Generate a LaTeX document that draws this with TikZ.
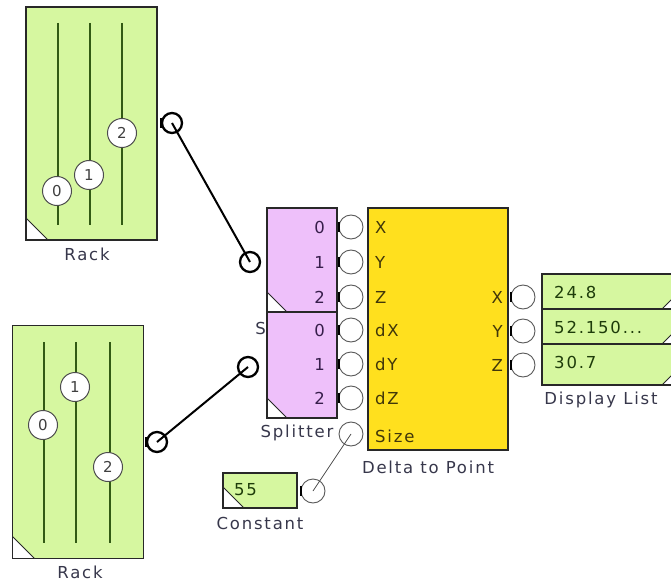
\documentclass[tikz,border=0pt]{standalone}
\usepackage{fontspec}
\setmainfont{DejaVu Sans}[LetterSpace=11]
\usetikzlibrary{positioning,calc}
\definecolor{rackgreen}{RGB}{214,247,160}
\definecolor{slidergreen}{RGB}{50,90,20}
\definecolor{splitpink}{RGB}{238,192,250}
\definecolor{deltayellow}{RGB}{255,224,30}
\definecolor{edge}{RGB}{40,40,40}
\definecolor{lbltext}{RGB}{55,55,75}
\definecolor{numtext}{RGB}{55,30,75}
\definecolor{pintext}{RGB}{65,55,10}
\definecolor{valtext}{RGB}{30,60,10}
\newcommand\lblfont{\fontsize{16.5}{18}\selectfont}
\newcommand\knobfont{\fontsize{15}{16}\selectfont}

\begin{document}
\begin{tikzpicture}[x=1pt,y=-1pt,
    block/.style={draw=edge,line width=1.3pt,inner sep=0pt},
    cornerL/.style={path picture={
        \fill[white] ([yshift=#1]path picture bounding box.south west)
          -- ([xshift=#1]path picture bounding box.south west)
          -- (path picture bounding box.south west) -- cycle;
        \draw[edge,line width=0.8pt] ([yshift=#1]path picture bounding box.south west)
          -- ([xshift=#1]path picture bounding box.south west);}},
    cornerR/.style={path picture={
        \fill[white] ([yshift=#1]path picture bounding box.south east)
          -- ([xshift=-#1]path picture bounding box.south east)
          -- (path picture bounding box.south east) -- cycle;
        \draw[edge,line width=0.8pt] ([yshift=#1]path picture bounding box.south east)
          -- ([xshift=-#1]path picture bounding box.south east);}},
    rackbox/.style={block,fill=rackgreen,minimum width=131pt,minimum height=233pt,cornerL=22pt},
    splitbox/.style={block,fill=splitpink,minimum width=70pt,cornerL=20pt},
    rowbox/.style={block,fill=rackgreen,minimum width=140pt,cornerR=20pt},
    port/.style={circle,draw=black!65,fill=white,line width=0.9pt,minimum size=24pt,inner sep=0pt},
    wireport/.style={circle,draw=black,fill=white,line width=2.3pt,minimum size=20pt,inner sep=0pt},
    knob/.style={circle,draw=black!70,fill=white,line width=1pt,minimum size=29pt,inner sep=0pt,
        font=\knobfont,text=black!75},
    lbl/.style={text=lbltext,font=\lblfont,inner sep=0pt},
    num/.style={text=numtext,font=\lblfont,inner sep=0pt,anchor=east},
    pin/.style={text=pintext,font=\lblfont,inner sep=0pt},
    val/.style={text=valtext,font=\lblfont,inner sep=0pt,anchor=west},
    slider/.style={draw=slidergreen,line width=1.6pt},
    tick/.style={black,line width=2pt},
    wire/.style={black,line width=2pt},
    thinwire/.style={black!70,line width=0.8pt}]
  \useasboundingbox (0,0) rectangle (671,585);

  %% Rack 1
  \node[rackbox] (rack1) at (91.5,123.5) {};
  \foreach \x in {58,90,122} \draw[slider] (\x,23) -- (\x,225);
  \node[knob] (k10) at (57,191) {0};
  \node[knob] (k11) at (89,175) {1};
  \node[knob] (k12) at (122,133) {2};
  \node[lbl] (rack1lbl) at (87,254) {Rack};
  \node[wireport] (rp1) at (172,123) {};
  \draw[tick] ([yshift=5pt]rp1.west) -- ([yshift=-5pt]rp1.west);

  %% Rack 2
  \node[rackbox] (rack2) at (78,442) {};
  \foreach \x in {44,76,110} \draw[slider] (\x,342) -- (\x,543);
  \node[knob] (k20) at (43,425) {0};
  \node[knob] (k21) at (75,387) {1};
  \node[knob] (k22) at (108,467) {2};
  \node[lbl] (rack2lbl) at (80,572) {Rack};
  \node[wireport] (rp2) at (157,442) {};
  \draw[tick] ([yshift=5pt]rp2.west) -- ([yshift=-5pt]rp2.west);

  %% Splitters
  \node[splitbox,minimum height=104pt] (split1) at (302,260) {};
  \node[lbl,anchor=east] (split1lbl) at (266,328) {S};
  \node[splitbox,minimum height=106pt] (split2) at (302,365) {};
  \node[lbl] (split2lbl) at (297,433) {Splitter};
  \node[num] (n10) at (325,227) {0};
  \node[num] (n11) at (325,262) {1};
  \node[num] (n12) at (325,297) {2};
  \node[num] (n20) at (325,330) {0};
  \node[num] (n21) at (325,364) {1};
  \node[num] (n22) at (325,398) {2};
  \node[wireport] (s1in) at (250,262) {};
  \node[wireport] (s2in) at (248,367) {};

  %% Delta to Point
  \node[block,fill=deltayellow,minimum width=140pt,minimum height=242pt] (delta) at (438,329) {};
  \node[lbl] (deltalbl) at (428,467) {Delta to Point};
  \foreach \y/\t/\n in {227/X/X,262/Y/Y,297/Z/Z,330/dX/dX,364/dY/dY,398/dZ/dZ}{
    \node[port] (o\n) at (351,\y) {};
    \draw[tick] ([yshift=5pt]o\n.west) -- ([yshift=-5pt]o\n.west);
    \node[pin,anchor=west] (in\n) at (375,\y) {\t};
  }
  \node[port] (osize) at (351,434) {};
  \node[pin,anchor=west] (insize) at (375,436) {Size};
  \node[pin,anchor=east] (outX) at (503,297) {X};
  \node[pin,anchor=east] (outY) at (503,331) {Y};
  \node[pin,anchor=east] (outZ) at (503,365) {Z};
  \node[port] (dX) at (523,297) {};
  \node[port] (dY) at (523,331) {};
  \node[port] (dZ) at (523,365) {};
  \foreach \p in {dX,dY,dZ}
    \draw[tick] ([yshift=5pt]\p.west) -- ([yshift=-5pt]\p.west);

  %% Display List
  \node[rowbox,minimum height=35pt] (row1) at (612,291.5) {};
  \node[rowbox,minimum height=35pt] (row2) at (612,326.5) {};
  \node[rowbox,minimum height=41pt] (row3) at (612,364.5) {};
  \node[val] (v1) at (554,292) {24.8};
  \node[val] (v2) at (554,327) {52.150...};
  \node[val] (v3) at (554,362) {30.7};
  \node[lbl] (displbl) at (601,400) {Display List};

  %% Constant
  \node[block,fill=rackgreen,minimum width=74pt,minimum height=35pt,cornerL=21pt] (const) at (260,490.5) {};
  \node[val] (cval) at (234,490) {55};
  \node[lbl] (constlbl) at (260,523) {Constant};
  \node[port] (cport) at (313,491) {};
  \draw[tick] ([yshift=5pt]cport.west) -- ([yshift=-5pt]cport.west);

  %% Wires
  \draw[wire] (rp1.center) -- (s1in.center);
  \draw[wire] (rp2.center) -- (s2in.center);
  \draw[thinwire] (cport.center) -- (osize.center);
\end{tikzpicture}
\end{document}
